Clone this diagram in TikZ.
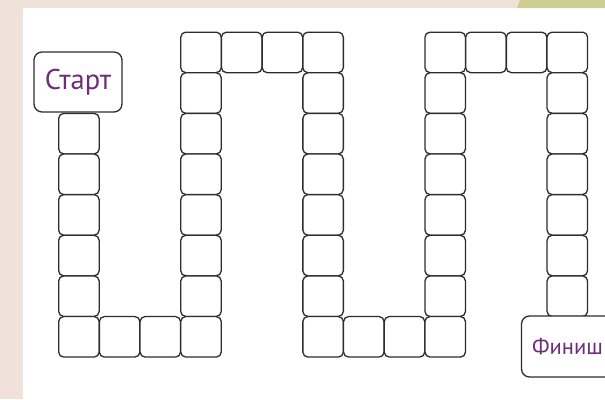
\documentclass[tikz,border=0pt]{standalone}
\usepackage{fontspec}
\setmainfont{PT Sans}
\definecolor{bgpink}{RGB}{240,225,218}
\definecolor{bggreen}{RGB}{206,206,146}
\definecolor{linegray}{RGB}{45,45,45}
\definecolor{txtpurple}{RGB}{110,45,120}
\begin{document}
\begin{tikzpicture}[x=1pt,y=-1pt,
  cell/.style={draw=linegray, line width=1.3pt, rounded corners=5pt, fill=white,
    minimum size=40.5pt, inner sep=0pt, anchor=north west},
  endbox/.style={draw=linegray, line width=1.3pt, rounded corners=8pt, fill=white,
    inner sep=0pt, text=txtpurple}]
\useasboundingbox (0,0) rectangle (605,399);
\clip (0,0) rectangle (605,399);
\fill[bgpink] (0,0) rectangle (605,399);
\fill[white] (23,8) rectangle (605,399);
\fill[bggreen] (520,0) -- (605,0) -- (605,8) -- (517,8) -- cycle;
\newcommand{\cellat}[2]{\node[cell] (c-#1-#2) at ({58+#1*40.7},{31.5+#2*40.63}) {};}
\foreach \r in {2,...,7} {\cellat{0}{\r}}
\foreach \c in {1,2} {\cellat{\c}{7}}
\foreach \r in {0,...,7} {\cellat{3}{\r}}
\foreach \c in {4,5} {\cellat{\c}{0}}
\foreach \r in {0,...,7} {\cellat{6}{\r}}
\foreach \c in {7,8} {\cellat{\c}{7}}
\foreach \r in {0,...,7} {\cellat{9}{\r}}
\foreach \c in {10,11} {\cellat{\c}{0}}
\foreach \r in {0,...,6} {\cellat{12}{\r}}
\node[endbox, minimum width=88pt, minimum height=60pt, font=\fontsize{28.5}{31}\selectfont] (start) at (78,82) {Старт};
\node[endbox, minimum width=92pt, minimum height=61pt, font=\fontsize{22.5}{25}\selectfont] (finish) at (567.5,346.5) {Финиш};
\end{tikzpicture}
\end{document}
